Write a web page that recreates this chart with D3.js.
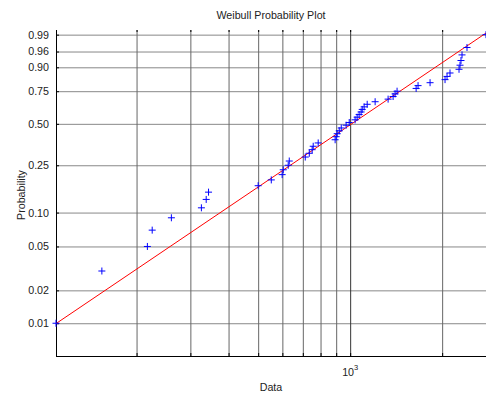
<!DOCTYPE html>
<html>
<head>
<meta charset="utf-8">
<script src="https://cdn.jsdelivr.net/npm/d3@7"></script>
<style>
  html, body { margin: 0; padding: 0; background: #fff; overflow: hidden; }
  svg { display: block; }
  text { font-family: "Liberation Sans", Arial, sans-serif; fill: #222; }
</style>
</head>
<body>
<div id="chart"></div>
<script>
/* global d3 */

// sorted sample values
var dataValues = [109, 154, 217, 225, 260, 326, 338, 344, 500, 552,
  599, 604, 627, 632, 713, 735, 751, 757, 786, 893,
  900, 907, 921, 935, 970, 993, 1038, 1054, 1070, 1086,
  1095, 1111, 1137, 1207, 1331, 1382, 1403, 1424, 1644, 1668,
  1826, 2044, 2075, 2122, 2271, 2288, 2305, 2323, 2412, 2783];

var probTicks = [0.01, 0.02, 0.05, 0.10, 0.25, 0.50, 0.75, 0.90, 0.96, 0.99];
var probLimits = [0.005, 0.9938];
var xMinorTicks = [200, 300, 400, 500, 600, 700, 800, 900, 2000];
var xMajorTicks = [1000];

// reference line (fitted weibull)
var fitScale = 1226,
  fitShape = 1.904;

var width = 486,
  height = 396,
  margin = {top: 30, right: 0, bottom: 40, left: 56},
  innerWidth = width - margin.left - margin.right,
  innerHeight = height - margin.top - margin.bottom;

function wbl(p) { return Math.log(-Math.log(1 - p)); }

var xScale = d3.scaleLog()
  .domain(d3.extent(dataValues))
  .range([0, innerWidth]);

var yScale = d3.scaleLinear()
  .domain([wbl(probLimits[0]), wbl(probLimits[1])])
  .range([innerHeight, 0]);

var n = dataValues.length;
var points = dataValues.map(function(d, i) { return [d, (i + 0.5) / n]; });
var xTicks = xMinorTicks.concat(xMajorTicks);

var svg = d3.select("#chart").append("svg")
  .attr("width", width)
  .attr("height", height);

var g = svg.append("g")
  .attr("transform", "translate(" + margin.left + "," + margin.top + ")");

function clean(s) {
  s.select(".domain").remove();
  s.selectAll(".tick text").remove();
}

// horizontal grid
g.append("g")
    .attr("class", "y grid")
    .call(d3.axisLeft(yScale).tickValues(probTicks.map(wbl)).tickSize(-innerWidth))
    .call(clean)
  .selectAll("line")
    .attr("stroke", "#888");

// vertical grid (minor + major)
g.append("g")
    .attr("class", "x grid")
    .attr("transform", "translate(0," + innerHeight + ")")
    .call(d3.axisBottom(xScale).tickValues(xTicks).tickSize(-innerHeight))
    .call(clean)
  .selectAll("line")
    .attr("stroke", function(d) { return d === 1000 ? "#333" : "#666"; });

// y axis
var yAxis = g.append("g")
  .attr("class", "y axis")
  .call(d3.axisLeft(yScale)
    .tickValues(probTicks.map(wbl))
    .tickSize(-3)
    .tickPadding(7)
    .tickFormat(function(w) { return d3.format(".2f")(1 - Math.exp(-Math.exp(w))); }));
yAxis.select(".domain").attr("stroke", "#000").attr("d", "M0.5," + innerHeight + "V0");
yAxis.selectAll(".tick line").attr("stroke", "#000");
yAxis.selectAll(".tick text").style("font-size", "10.7px").attr("fill", "#222");

// x axis, ticks only at bottom and top
var xAxis = g.append("g")
  .attr("class", "x axis")
  .attr("transform", "translate(0," + innerHeight + ")")
  .call(d3.axisBottom(xScale).tickValues(xTicks).tickSize(-3));
xAxis.selectAll(".tick text").remove();
xAxis.select(".domain").attr("stroke", "#000").attr("d", "M0,0.5H" + innerWidth);
xAxis.selectAll(".tick line").attr("stroke", "#000");

g.append("g")
    .attr("class", "x top")
    .call(d3.axisTop(xScale).tickValues(xTicks).tickSize(-2))
    .call(clean)
  .selectAll("line")
    .attr("stroke", "#000");

// 10^3 label
var lab = g.append("text")
  .attr("x", xScale(1000))
  .attr("y", innerHeight + 20)
  .attr("text-anchor", "middle")
  .style("font-size", "10.7px");
lab.append("tspan").text("10");
lab.append("tspan").attr("dy", -6).style("font-size", "7.5px").text("3");

// fitted line
var line = d3.line()
  .x(function(d) { return xScale(d); })
  .y(function(d) { return yScale(fitShape * (Math.log(d) - Math.log(fitScale))); });

g.append("path")
  .datum(xScale.domain())
  .attr("fill", "none")
  .attr("stroke", "#ff0000")
  .attr("stroke-width", 1)
  .attr("d", line);

// data markers
var sz = 3.5;
g.selectAll(".pt")
    .data(points)
  .enter().append("path")
    .attr("class", "pt")
    .attr("transform", function(d) { return "translate(" + xScale(d[0]) + "," + yScale(wbl(d[1])) + ")"; })
    .attr("d", "M" + (-sz) + ",0H" + sz + "M0," + (-sz) + "V" + sz)
    .attr("stroke", "#0000ff")
    .attr("stroke-width", 1)
    .attr("fill", "none");

// titles
svg.append("text")
  .attr("x", margin.left + innerWidth / 2)
  .attr("y", 19)
  .attr("text-anchor", "middle")
  .style("font-size", "10.7px")
  .text("Weibull Probability Plot");

svg.append("text")
  .attr("x", margin.left + innerWidth / 2)
  .attr("y", 391)
  .attr("text-anchor", "middle")
  .style("font-size", "10.7px")
  .text("Data");

svg.append("text")
  .attr("transform", "translate(25," + (margin.top + innerHeight / 2 + 2) + ") rotate(-90)")
  .attr("text-anchor", "middle")
  .style("font-size", "10.7px")
  .text("Probability");
</script>
</body>
</html>
